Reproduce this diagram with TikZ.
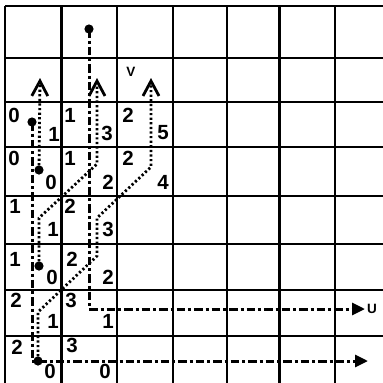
\documentclass[tikz,border=0pt]{standalone}
\usepackage{fontspec}
\setmainfont{Liberation Sans}
\usetikzlibrary{arrows.meta}

\begin{document}
\begin{tikzpicture}[x=1bp,y=-1bp,
  gridline/.style={line width=2.6bp},
  dashdot/.style={line width=3bp, dash pattern=on 8.5bp off 3bp on 3bp off 3bp},
  dotline/.style={line width=2.8bp, dash pattern=on 2.2bp off 2.4bp},
  num/.style={font=\fontsize{20.5bp}{20.5bp}\selectfont\bfseries, inner sep=0pt},
  lbl/.style={font=\fontsize{13.5bp}{13.5bp}\selectfont\bfseries, inner sep=0pt}]
\useasboundingbox (0,0) rectangle (383,383);
\def\rdot{4.6bp}
% grid
\foreach \gx in {5,61.5,117,173,227,279.5,335}
  \draw[gridline] (\gx,6) -- (\gx,390);
\foreach \gy in {6,58,102,147,196,244,290,336}
  \draw[gridline] (5,\gy) -- (390,\gy);

\coordinate (Pb) at (89,29);
\coordinate (Pa) at (32,122);
\coordinate (Pc) at (39,170);
\coordinate (Pd) at (39,266);
\coordinate (Pe) at (38,361);
\coordinate (TipA) at (368,361);
\coordinate (TipB) at (365,309);
\coordinate (Hc) at (40,78);
\coordinate (Hd) at (97,78);
\coordinate (He) at (151,78);

% dash-dot paths
\draw[dashdot, -{Triangle[length=13bp,width=12bp]}] (Pb) -- (89,309) -- (TipB);
\draw[dashdot] (Pa) -- (32,361) -- (Pe);
\draw[dashdot, -{Triangle[length=13bp,width=12bp]}] (Pe) -- (TipA);

% dotted paths
\draw[dotline, -{Straight Barb[length=15bp,width=16bp]}] (Pc) -- (Hc);
\draw[dotline, -{Straight Barb[length=15bp,width=16bp]}] (Pd) -- (39,218) -- (97,164) -- (Hd);
\draw[dotline, -{Straight Barb[length=15bp,width=16bp]}] (Pe) -- (38,312) -- (97,256) -- (97,218) -- (151,167) -- (He);

\foreach \p in {Pa,Pb,Pc,Pd,Pe}
  \fill (\p) circle (\rdot);

% cell values
\foreach \x/\y/\t [count=\i] in {
  14/115/0, 54/134/1, 70/115/1, 107/133/3, 128/115/2, 163/133/5,
  14/158/0, 51/182/0, 70/158/1, 108/182/2, 128/158/2, 163/182/4,
  15/206/1, 53/229/1, 70/206/2, 108/229/3,
  15/259/1, 52/277/0, 72/259/2, 108/277/2,
  16/300/2, 53/321/1, 71/300/3, 108/321/1,
  17/347/2, 50/371/0, 72/345/3, 105/371/0}
  \node[num] (v\i) at (\x,\y) {\t};

\node[lbl] (V) at (131,72) {V};
\node[lbl, right=2bp] (U) at (TipB) {U};
\end{tikzpicture}
\end{document}
